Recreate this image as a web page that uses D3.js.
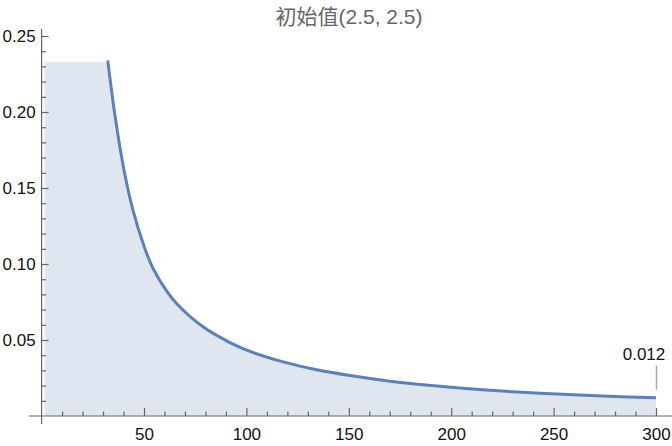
<!DOCTYPE html>
<html><head><meta charset="utf-8">
<script src="https://cdn.jsdelivr.net/npm/d3@7"></script>
<style>body{margin:0;background:#fff;}svg{display:block;}</style>
</head><body>
<svg id="c" width="672" height="446"></svg>
<script>
const title = "初始值(2.5, 2.5)";
const xs = [32.3, 35.8, 39.9, 44.5, 50.5, 54.5, 61.1, 66.0, 79.0, 92.0, 101.8, 118.0, 134.3, 150.6, 170.1, 194.5, 218.9, 243.4, 271.0, 300];
const ys = [0.234, 0.198, 0.1642, 0.136, 0.1099, 0.0969, 0.0822, 0.0739, 0.0585, 0.0483, 0.0425, 0.0356, 0.0304, 0.0266, 0.0229, 0.0195, 0.01695, 0.0150, 0.01332, 0.012];
const xStart = 1.5;
const yClipTop = 0.233;
const xMajor = [50, 100, 150, 200, 250, 300];
const yMajor = [0.05, 0.10, 0.15, 0.20, 0.25];
const endLabel = "0.012";

const svg = d3.select("#c");
const x = d3.scaleLinear().domain([0, 300]).range([41.6, 656]);
const y = d3.scaleLinear().domain([0, 0.25]).range([416, 36]);
const font = "'Liberation Sans', Arial, 'Noto Sans CJK SC', sans-serif";

const pts = xs.map((v, i) => ({x: v, y: ys[i]}));
const areaPts = [{x: xStart, y: 0.26}, {x: 30, y: 0.26}].concat(pts);
const curve = d3.curveCatmullRom.alpha(0.5);

svg.append("defs").append("clipPath").attr("id", "clip")
  .append("rect").attr("x", x(0)).attr("y", y(yClipTop))
  .attr("width", x(300) - x(0) + 3).attr("height", y(0) - y(yClipTop));
svg.append("defs").append("clipPath").attr("id", "clip2")
  .append("rect").attr("x", x(0)).attr("y", y(yClipTop) - 2)
  .attr("width", x(300) - x(0) + 6).attr("height", y(0) - y(yClipTop) + 2);

const g = svg.append("g");
g.append("path").datum(areaPts).attr("clip-path", "url(#clip)")
  .attr("fill", "#dfe6f0")
  .attr("d", d3.area().x(d => x(d.x)).y0(y(0)).y1(d => y(d.y)).curve(d3.curveMonotoneX));

// axes
const ax = svg.append("g").attr("stroke", "#666").attr("stroke-width", 1.2);
ax.append("line").attr("x1", x(0) - 13).attr("x2", 672).attr("y1", y(0)).attr("y2", y(0));
ax.append("line").attr("x1", x(0)).attr("x2", x(0)).attr("y1", y(0) + 8).attr("y2", y(0.2546));

const xMinor = d3.range(10, 301, 10).filter(v => v % 50 !== 0);
const yMinor = d3.range(1, 26).map(v => v / 100).filter(v => Math.round(v * 100) % 5 !== 0);

function styleAxis(sel) {
  sel.select(".domain").remove();
  sel.selectAll(".tick line").attr("stroke", "#666").attr("stroke-width", 1.2);
  sel.selectAll(".tick text").attr("fill", "#111").style("font-family", font).style("font-size", "17px");
}
svg.append("g").attr("transform", `translate(0,${y(0)})`)
  .call(d3.axisBottom(x).tickValues(xMinor).tickSize(-4.5).tickFormat(""))
  .call(styleAxis);
svg.append("g").attr("transform", `translate(0,${y(0)})`)
  .call(d3.axisBottom(x).tickValues(xMajor).tickSize(-8).tickPadding(12).tickFormat(d3.format("d")))
  .call(styleAxis);
svg.append("g").attr("transform", `translate(${x(0)},0)`)
  .call(d3.axisLeft(y).tickValues(yMinor).tickSize(-4.5).tickFormat(""))
  .call(styleAxis);
svg.append("g").attr("transform", `translate(${x(0)},0)`)
  .call(d3.axisLeft(y).tickValues(yMajor).tickSize(-7).tickPadding(6).tickFormat(d3.format(".2f")))
  .call(styleAxis);

// curve
g.append("path").datum(pts).attr("clip-path", "url(#clip2)")
  .attr("fill", "none").attr("stroke", "#5e81b5").attr("stroke-width", 3)
  .attr("d", d3.line().x(d => x(d.x)).y(d => y(d.y)).curve(curve));

// callout
const last = pts[pts.length - 1];
svg.append("line").attr("x1", x(last.x) + 0.5).attr("x2", x(last.x) + 0.5)
  .attr("y1", y(last.y) - 8).attr("y2", y(last.y) - 32)
  .attr("stroke", "#aaa").attr("stroke-width", 1.5);
svg.append("text").attr("x", x(last.x) - 12).attr("y", y(last.y) - 38)
  .attr("text-anchor", "middle").attr("fill", "#111")
  .style("font-family", font).style("font-size", "17px").text(endLabel);

svg.append("text").attr("x", 349).attr("y", 24).attr("text-anchor", "middle")
  .attr("fill", "#666").style("font-family", font).style("font-size", "21px").text(title);
</script>
</body></html>
